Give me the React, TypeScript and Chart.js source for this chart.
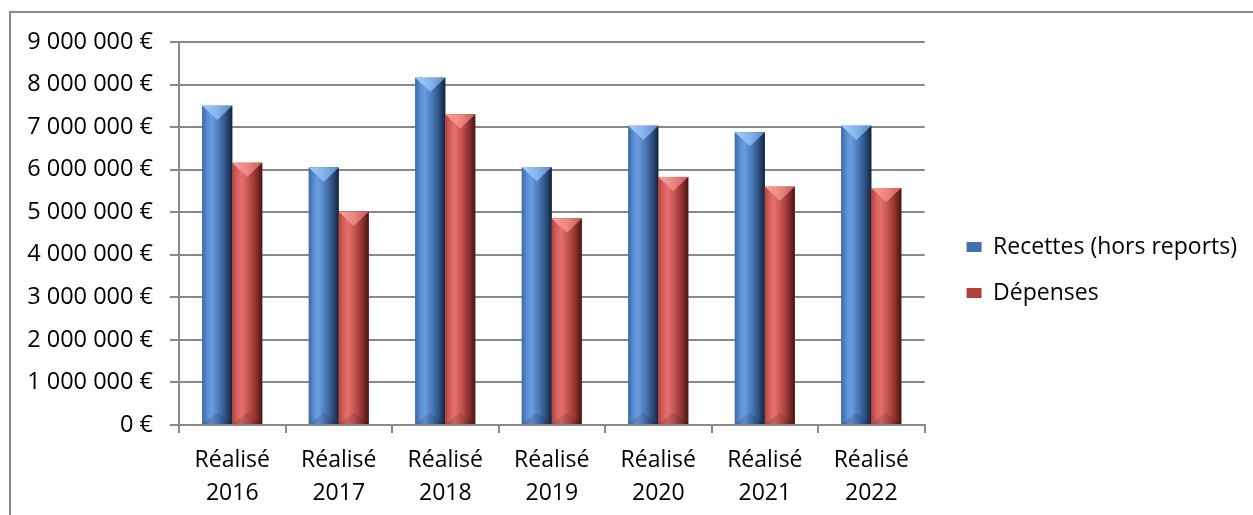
import React, { useEffect, useRef } from 'react';
import { Chart, registerables } from 'chart.js';

Chart.register(...registerables);

// ---- Data ----
const categories: string[][] = [
  ['Réalisé', '2016'],
  ['Réalisé', '2017'],
  ['Réalisé', '2018'],
  ['Réalisé', '2019'],
  ['Réalisé', '2020'],
  ['Réalisé', '2021'],
  ['Réalisé', '2022'],
];
const seriesNames = ['Recettes (hors reports)', 'Dépenses'];
const recettes = [7500000, 6050000, 8160000, 6060000, 7030000, 6880000, 7030000];
const depenses = [6160000, 5010000, 7300000, 4850000, 5830000, 5600000, 5570000];
const yMin = 0;
const yMax = 9000000;
const yStep = 1000000;

// ---- Styles ----
const FONT = "'Open Sans', 'Noto Sans', sans-serif";
const GRID = '#898989';
const palettes = [
  {
    base: '#3f6fae',
    body: [
      [0, '#3b69a8'],
      [0.18, '#5b8fd4'],
      [0.32, '#6a9ddf'],
      [0.55, '#4a7cbd'],
      [0.8, '#2d4f7e'],
      [1, '#142338'],
    ],
    top: [
      [0, '#a3cbf7'],
      [0.5, '#86b4ec'],
      [1, '#5a88c6'],
    ],
  },
  {
    base: '#b4403d',
    body: [
      [0, '#b8423f'],
      [0.18, '#d9625e'],
      [0.32, '#e2706c'],
      [0.55, '#c4524e'],
      [0.8, '#8a302d'],
      [1, '#461514'],
    ],
    top: [
      [0, '#f7a29d'],
      [0.5, '#ee8681'],
      [1, '#c85a56'],
    ],
  },
];

const fmtEuro = (v: number) =>
  String(Math.round(v)).replace(/\B(?=(\d{3})+(?!\d))/g, ' ') + ' €';

const cylinderPlugin = {
  id: 'cylinderBars',
  afterDatasetsDraw(chart: any) {
    const ctx = chart.ctx as CanvasRenderingContext2D;
    const area = chart.chartArea;
    ctx.save();
    ctx.beginPath();
    ctx.rect(area.left, area.top - 2, area.right - area.left, area.bottom - area.top + 2);
    ctx.clip();
    chart.data.datasets.forEach((_ds: any, di: number) => {
      const meta = chart.getDatasetMeta(di);
      const pal = palettes[di];
      meta.data.forEach((el: any) => {
        const p = el.getProps(['x', 'y', 'base', 'width'], true);
        const l = p.x - p.width / 2;
        const r = p.x + p.width / 2;
        const t = Math.min(p.y, p.base);
        const b = Math.max(p.y, p.base);
        const w = r - l;
        const h = Math.min(w * 0.47, (b - t) / 2);
        const g = ctx.createLinearGradient(l, 0, r, 0);
        pal.body.forEach(([o, c]) => g.addColorStop(o as number, c as string));
        ctx.fillStyle = g;
        ctx.fillRect(l, t, w, b - t);
        // bottom pyramid shading
        ctx.beginPath();
        ctx.moveTo(l, b);
        ctx.lineTo(p.x, b - h * 0.8);
        ctx.lineTo(r, b);
        ctx.closePath();
        ctx.fillStyle = 'rgba(0,0,0,0.12)';
        ctx.fill();
        // top chevron
        const tg = ctx.createLinearGradient(l, 0, r, 0);
        pal.top.forEach(([o, c]) => tg.addColorStop(o as number, c as string));
        ctx.beginPath();
        ctx.moveTo(l, t);
        ctx.lineTo(r, t);
        ctx.lineTo(p.x, t + h);
        ctx.closePath();
        ctx.fillStyle = tg;
        ctx.fill();
      });
    });
    ctx.restore();
  },
};

export default function App() {
  const canvasRef = useRef<HTMLCanvasElement | null>(null);

  useEffect(() => {
    if (!canvasRef.current) return;
    const chart = new Chart(canvasRef.current, {
      type: 'bar',
      data: {
        labels: categories,
        datasets: [
          {
            label: seriesNames[0],
            data: recettes,
            backgroundColor: palettes[0].base,
            borderWidth: 0,
            categoryPercentage: 0.563,
            barPercentage: 1,
          },
          {
            label: seriesNames[1],
            data: depenses,
            backgroundColor: palettes[1].base,
            borderWidth: 0,
            categoryPercentage: 0.563,
            barPercentage: 1,
          },
        ],
      },
      plugins: [cylinderPlugin],
      options: {
        responsive: false,
        animation: false,
        devicePixelRatio: 1,
        layout: { padding: { left: 0, right: 6, top: 42, bottom: 0 } },
        plugins: {
          tooltip: { enabled: false },
          legend: {
            position: 'right',
            align: 'start',
            maxWidth: 340,
            title: {
              display: true,
              text: ' ',
              font: { family: FONT, size: 10, lineHeight: 1 },
              padding: { top: 160.5, bottom: 0 },
            },
            labels: {
              boxWidth: 15,
              boxHeight: 10,
              padding: 23,
              color: '#000',
              font: { family: FONT, size: 23 },
            },
          },
        },
        scales: {
          x: {
            grid: {
              display: true,
              drawOnChartArea: false,
              drawTicks: true,
              tickLength: 8,
              offset: true,
              color: GRID,
              lineWidth: 2,
            },
            border: { display: true, color: GRID, width: 2 },
            ticks: {
              color: '#000',
              padding: 11,
              maxRotation: 0,
              autoSkip: false,
              font: { family: FONT, size: 23, lineHeight: 1.43 },
            },
            afterFit: (s: any) => {
              s.height = 90;
            },
          },
          y: {
            min: yMin,
            max: yMax,
            grid: {
              color: GRID,
              lineWidth: 2,
              drawTicks: true,
              tickLength: 9,
            },
            border: { display: true, color: GRID, width: 2 },
            ticks: {
              stepSize: yStep,
              color: '#000',
              padding: 17,
              font: { family: FONT, size: 23.5 },
              callback: (v: any) => fmtEuro(Number(v)),
            },
            afterFit: (s: any) => {
              s.width = 179;
            },
          },
          spacer: {
            type: 'linear',
            position: 'right',
            display: true,
            grid: { display: false, drawTicks: false },
            border: { display: false },
            ticks: { display: false },
            afterFit: (s: any) => {
              s.width = 19;
            },
          },
        },
      } as any,
    });
    return () => chart.destroy();
  }, []);

  return (
    <div
      style={{
        position: 'fixed',
        left: 0,
        top: 0,
        width: 1253,
        height: 515,
        overflow: 'hidden',
        background: '#fff',
      }}
    >
      <div
        style={{
          position: 'absolute',
          left: 9,
          top: 11,
          width: 1400,
          height: 700,
          border: '2px solid #8a8a8a',
          boxSizing: 'border-box',
        }}
      />
      <canvas
        ref={canvasRef}
        width={1253}
        height={515}
        style={{ position: 'absolute', left: 0, top: 0, width: 1253, height: 515 }}
      />
    </div>
  );
}
